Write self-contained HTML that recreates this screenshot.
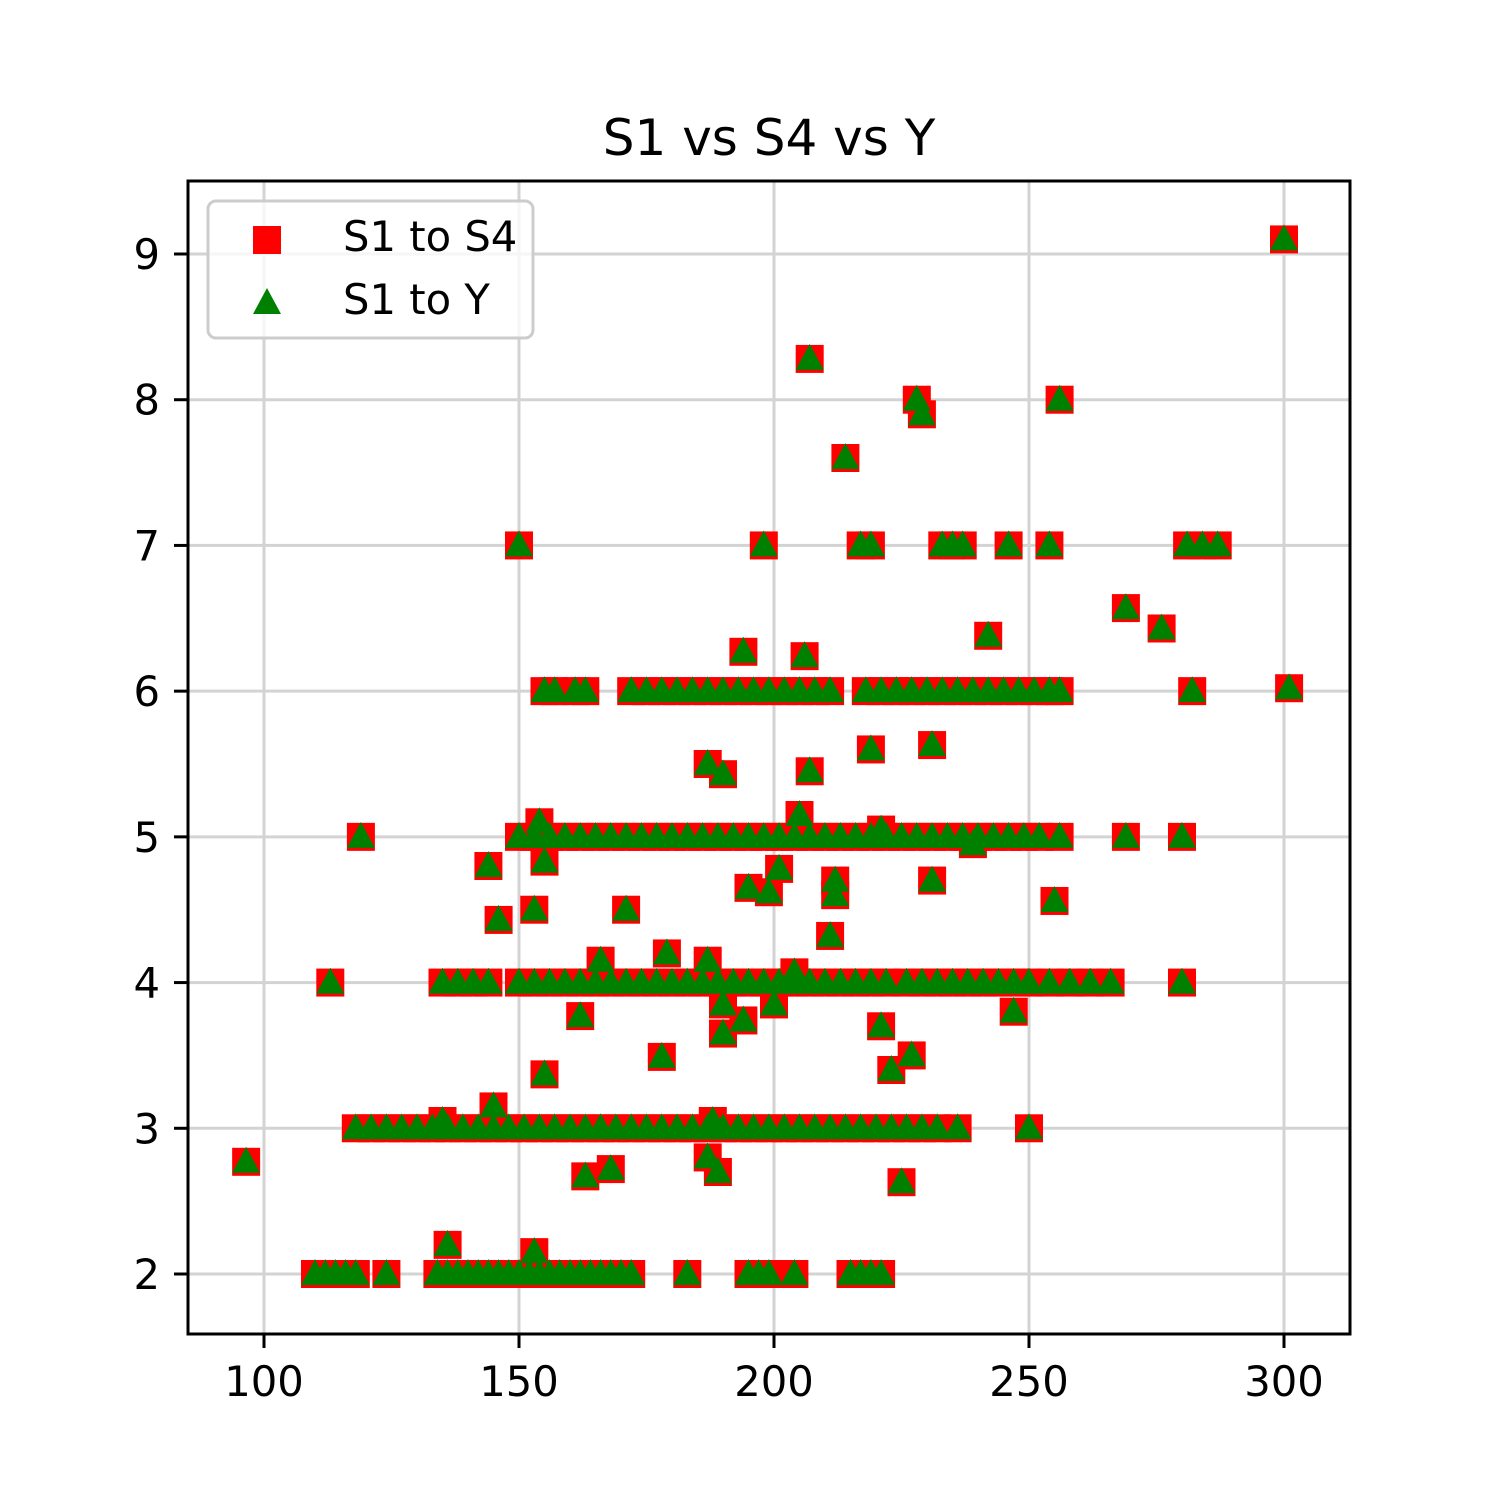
<!DOCTYPE html>
<html><head><meta charset="utf-8"><style>
html,body{margin:0;padding:0;background:#fff}
svg{display:block}
text{font-family:"DejaVu Sans","Liberation Sans",sans-serif;fill:#000}
</style></head><body>
<svg id="chart" width="1500" height="1500" viewBox="0 0 1500 1500" xmlns="http://www.w3.org/2000/svg">
<rect width="1500" height="1500" fill="#fff"/>
<text x="769" y="155" font-size="50" text-anchor="middle">S1 vs S4 vs Y</text>
<g id="grid"></g>
<g id="marks"></g>
<rect x="188" y="181" width="1162" height="1153" fill="none" stroke="#000" stroke-width="3"/>
<g id="ticks"></g>
<g>
<rect x="208" y="201" width="325" height="137" rx="8" fill="#fff" fill-opacity="0.8" stroke="#cccccc" stroke-width="3"/>
<rect x="253" y="226" width="28" height="28" fill="#ff0000"/>
<text x="343" y="251" font-size="41.7">S1 to S4</text>
<polygon points="267,288 253,314 281,314" fill="#008000"/>
<text x="343" y="314" font-size="41.7">S1 to Y</text>
</g>
</svg>
<script>
const xTicks=[100,150,200,250,300];
const yTicks=[2,3,4,5,6,7,8,9];
const s1=[110,112,114,116,118,124,134,136,138,140,142,144,146,148,150,152,154,156,158,160,162,164,166,168,170,172,183,195,197,199,204,215,217,219,221,136,153,
118,121,124,127,130,133,136,139,142,145,148,151,154,157,160,163,166,169,172,175,178,181,184,187,190,193,196,199,202,205,208,211,214,217,220,223,226,229,232,236,250,135,145,188,
113,135,138,141,144,150,153,156,159,162,165,168,171,174,177,180,183,186,189,192,195,198,201,204,207,210,213,216,219,222,226,229,232,235,238,241,244,247,250,254,258,262,266,280,
119,150,153,156,159,162,165,168,171,174,177,180,183,186,189,192,195,198,201,204,207,210,213,216,219,222,225,228,231,234,237,240,243,246,249,252,256,269,280,
155,157,161,163,172,175,178,181,184,187,190,193,196,199,202,205,208,211,218,221,224,227,230,233,236,239,242,245,248,251,254,256,282,301,
150,198,217,219,233,235,237,246,254,281,284,287,
96.5,300,207,228,229,256,214,269,276,242,194,206,219,231,187,190,207,154,205,221,239,155,144,146,153,171,195,199,201,212,212,231,255,211,179,166,187,204,162,190,200,194,190,247,221,155,178,223,227,187,189,163,168,225];
const s4=[2,2,2,2,2,2,2,2,2,2,2,2,2,2,2,2,2,2,2,2,2,2,2,2,2,2,2,2,2,2,2,2,2,2,2,2.2,2.15,
3,3,3,3,3,3,3,3,3,3,3,3,3,3,3,3,3,3,3,3,3,3,3,3,3,3,3,3,3,3,3,3,3,3,3,3,3,3,3,3,3,3.05,3.15,3.05,
4,4,4,4,4,4,4,4,4,4,4,4,4,4,4,4,4,4,4,4,4,4,4,4,4,4,4,4,4,4,4,4,4,4,4,4,4,4,4,4,4,4,4,4,
5,5,5,5,5,5,5,5,5,5,5,5,5,5,5,5,5,5,5,5,5,5,5,5,5,5,5,5,5,5,5,5,5,5,5,5,5,5,5,
6,6,6,6,6,6,6,6,6,6,6,6,6,6,6,6,6,6,6,6,6,6,6,6,6,6,6,6,6,6,6,6,6,6.02,
7,7,7,7,7,7,7,7,7,7,7,7,
2.77,9.1,8.28,8.0,7.9,8.0,7.6,6.57,6.43,6.38,6.27,6.24,5.6,5.63,5.5,5.43,5.45,5.1,5.15,5.05,4.95,4.83,4.8,4.43,4.5,4.5,4.65,4.62,4.78,4.7,4.6,4.7,4.56,4.32,4.2,4.15,4.15,4.07,3.77,3.85,3.85,3.74,3.65,3.8,3.7,3.37,3.49,3.4,3.5,2.8,2.7,2.67,2.72,2.63];
const yv=s4.slice();
const NS="http://www.w3.org/2000/svg";
const X=v=>264+(v-100)*5.1;
const Y=v=>1274-(v-2)*145.714;
const grid=document.getElementById('grid'),ticks=document.getElementById('ticks'),marks=document.getElementById('marks');
function mk(t,a,p){const e=document.createElementNS(NS,t);for(const k in a)e.setAttribute(k,a[k]);p.appendChild(e);return e;}
xTicks.forEach(v=>{
 const g=mk('line',{x1:X(v),x2:X(v),y1:181,y2:1334,stroke:'#d3d3d3','stroke-width':3},grid);
 
 
 const t=mk('line',{x1:X(v),x2:X(v),y1:1334,y2:1348,stroke:'#000','stroke-width':3},ticks);
 
 
 const l=mk('text',{x:X(v),y:1396,'font-size':41.7,'text-anchor':'middle'},ticks);l.textContent=v;
 
 
});
yTicks.forEach(v=>{
 const g=mk('line',{x1:188,x2:1350,y1:Y(v),y2:Y(v),stroke:'#d3d3d3','stroke-width':3},grid);
 
 
 const t=mk('line',{x1:174,x2:188,y1:Y(v),y2:Y(v),stroke:'#000','stroke-width':3},ticks);
 
 
 const l=mk('text',{x:160,y:Y(v)+15,'font-size':41.7,'text-anchor':'end'},ticks);l.textContent=v;
 
 
});
s1.forEach((v,i)=>{
 const r=mk('rect',{x:X(v)-14,y:Y(s4[i])-14,width:28,height:28,fill:'#ff0000'},marks);
 
 
});
s1.forEach((v,i)=>{
 const cx=X(v),cy=Y(yv[i]);
 const p=mk('polygon',{points:`${cx},${cy-15} ${cx-14},${cy+11} ${cx+14},${cy+11}`,fill:'#008000'},marks);
 
 
});
</script>
</body></html>
